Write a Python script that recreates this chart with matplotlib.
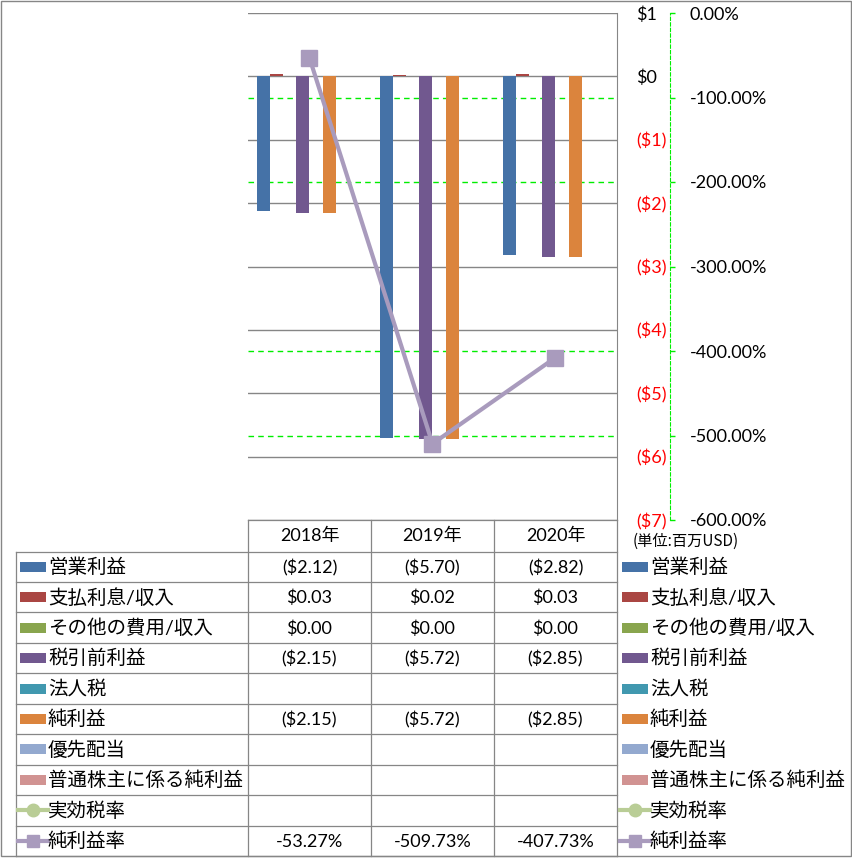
import matplotlib
matplotlib.use("Agg")
import matplotlib.pyplot as plt
from matplotlib.patches import Rectangle
import numpy as np

plt.rcParams['font.family'] = ['Lato', 'Noto Sans CJK JP', 'DejaVu Sans']
plt.rcParams['text.parse_math'] = False

# データ（単位: 百万USD）
years = ['2018年', '2019年', '2020年']
series_names = ['営業利益', '支払利息/収入', 'その他の費用/収入', '税引前利益',
                '法人税', '純利益', '優先配当', '普通株主に係る純利益']
operating_income = [-2.12, -5.70, -2.82]
interest = [0.03, 0.02, 0.03]
other_expense = [0.00, 0.00, 0.00]
pretax_income = [-2.15, -5.72, -2.85]
income_tax = [None, None, None]
net_income = [-2.15, -5.72, -2.85]
preferred_div = [None, None, None]
net_to_common = [None, None, None]
effective_tax_rate = [None, None, None]
net_margin = [-53.27, -509.73, -407.73]

bar_series = [operating_income, interest, other_expense, pretax_income,
              income_tax, net_income, preferred_div, net_to_common]
bar_colors = ['#4572A7', '#AA4643', '#89A54E', '#71588F',
              '#4198AF', '#DB843D', '#93A9CF', '#D19392']
tax_color = '#B9CD96'
margin_color = '#A99BBD'
grid_gray = '#868686'
green = '#00EE00'

W, H = 853, 858
fig = plt.figure(figsize=(W / 100, H / 100), dpi=100)


def fx(px):
    return px / W


def fy(py):
    return 1 - py / H


# 枠・表用のオーバーレイ（ピクセル座標）
axo = fig.add_axes([0, 0, 1, 1], zorder=0)
axo.set_xlim(0, W)
axo.set_ylim(H, 0)
axo.axis('off')

# メインのグラフ
rect = [fx(248), fy(520), (617 - 248) / W, (520 - 13) / H]
ax = fig.add_axes(rect)
ax2 = ax.twinx()
ax3 = ax.twinx()
ax2.set_zorder(1)
ax.set_zorder(2)
ax3.set_zorder(3)
for a in (ax, ax2, ax3):
    a.patch.set_visible(False)

x = np.arange(len(years))
bw = 0.1057
for i, (vals, col) in enumerate(zip(bar_series, bar_colors)):
    v = np.array([np.nan if t is None else t for t in vals], dtype=float)
    ax.bar(x + (i - 3.5) * bw, v, width=bw, color=col, zorder=3)

ax.set_xlim(-0.5, 2.5)
ax.set_ylim(-7, 1)
ax.set_xticks([])
dollar_ticks = list(range(-7, 2))
ax.set_yticks(dollar_ticks)
ax.set_yticklabels([f'(${abs(t)})' if t < 0 else f'${t}' for t in dollar_ticks])
ax.yaxis.tick_right()
ax.tick_params(axis='y', length=0, pad=13.7, labelsize=13)
for t, lab in zip(dollar_ticks, ax.get_yticklabels()):
    lab.set_color('red' if t < 0 else 'black')
ax.yaxis.grid(True, color=grid_gray, lw=1)
ax.set_axisbelow(True)
for s in ('left', 'top', 'bottom'):
    ax.spines[s].set_visible(False)
ax.spines['right'].set_color(grid_gray)

# 第2軸（％）
ax2.set_ylim(-600, 0)
pct_ticks = list(range(-600, 1, 100))
ax2.set_yticks(pct_ticks)
ax2.set_yticklabels([f'{t:.2f}%' for t in pct_ticks])
for t, lab in zip(pct_ticks, ax2.get_yticklabels()):
    lab.set_color('red' if t < 0 else 'black')
ax2.tick_params(axis='y', direction='out', length=3.5, width=1, color=green,
                pad=10.5, labelsize=13)
for s in ('left', 'top', 'bottom'):
    ax2.spines[s].set_visible(False)
ax2.spines['right'].set_position(('axes', (670 - 248) / (617 - 248)))
ax2.spines['right'].set_color(green)
ax2.spines['right'].set_linestyle((0, (3, 2)))
ax2.yaxis.grid(True, color=green, lw=1, ls=(0, (4, 3)))
# 灰色の目盛線と重なる位置の緑線は表示しない
for t, gl in zip(pct_ticks, ax2.get_ygridlines()):
    if t in (0, -300, -600):
        gl.set_visible(False)
ax2.set_xticks([])

# 純利益率ライン
ax3.set_ylim(-600, 0)
ax3.plot(x, net_margin, color=margin_color, lw=3, marker='s', ms=12,
         mfc=margin_color, mec=margin_color, solid_joinstyle='round')
ax3.axis('off')

# 単位
axo.text(633, 541, '(単位:百万USD)', fontsize=11, va='center', ha='left',
         family=['Noto Sans CJK JP', 'DejaVu Sans'])

# 表
line_kw = dict(color=grid_gray, lw=0.9)
col_edges = [248, 371, 494, 617]
col_centers = [(col_edges[i] + col_edges[i + 1]) / 2 for i in range(3)]
n_rows = 10
row_edges = list(np.linspace(551.5, 856, n_rows + 1))
row_centers = [(row_edges[i] + row_edges[i + 1]) / 2 for i in range(n_rows)]

for xe in col_edges:
    axo.plot([xe, xe], [520, 856], **line_kw)
axo.plot([16, 16], [551.5, 856], **line_kw)
axo.plot([248, 617], [520, 520], **line_kw)
for ye in row_edges:
    axo.plot([16, 617], [ye, ye], **line_kw)

for xc, yr in zip(col_centers, years):
    axo.text(xc, 536, yr, fontsize=13, ha='center', va='center')


def fmt_dollar(v):
    if v is None:
        return ''
    return f'(${abs(v):.2f})' if v < 0 else f'${v:.2f}'


table_rows = [[fmt_dollar(v) for v in s] for s in bar_series]
table_rows.append(['' if v is None else f'{v:.2f}%' for v in effective_tax_rate])
table_rows.append([f'{v:.2f}%' for v in net_margin])
row_labels = series_names + ['実効税率', '純利益率']

for r, (yc, cells) in enumerate(zip(row_centers, table_rows)):
    for xc, txt in zip(col_centers, cells):
        axo.text(xc, yc + 1, txt, fontsize=13, ha='center', va='center')


def legend_key(x0, yc, r):
    if r < len(bar_colors):
        axo.add_patch(Rectangle((x0, yc - 5), 26, 10, color=bar_colors[r], lw=0))
    else:
        c = tax_color if r == 8 else margin_color
        m = 'o' if r == 8 else 's'
        axo.plot([x0 - 2, x0 + 28], [yc, yc], color=c, lw=3)
        axo.plot([x0 + 13], [yc], marker=m, ms=9, color=c, mec=c)


for r, (yc, lab) in enumerate(zip(row_centers, row_labels)):
    legend_key(20, yc, r)
    axo.text(48, yc, lab, fontsize=14, ha='left', va='center')
    legend_key(622, yc, r)
    axo.text(650, yc, lab, fontsize=14, ha='left', va='center')

# 外枠
axo.add_patch(Rectangle((1, 1), 850, 855, fill=False, ec=grid_gray, lw=1))

fig.savefig('out.png', dpi=100)
